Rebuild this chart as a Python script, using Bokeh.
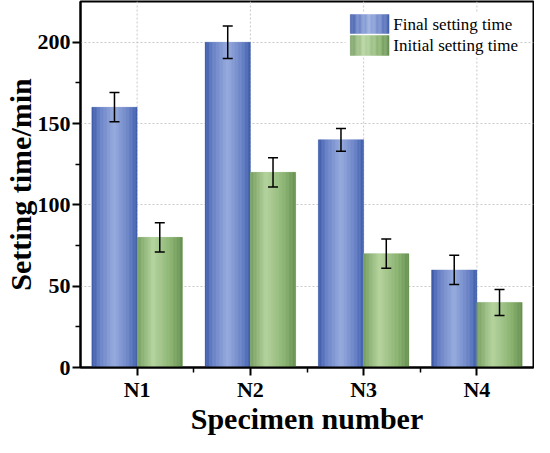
import numpy as np
from bokeh.plotting import figure
from bokeh.models import FixedTicker, Whisker, ColumnDataSource, TeeHead, Range1d
from bokeh.embed import file_html
from bokeh.resources import INLINE
from bokeh.core.properties import value

# ---- data ----
categories = ["N1", "N2", "N3", "N4"]
final_time = [160, 200, 140, 60]
final_err = [9, 10, 7, 9]
initial_time = [80, 120, 70, 40]
initial_err = [9, 9, 9, 8]
series_labels = ["Final setting time", "Initial setting time"]
y_ticks = [0, 50, 100, 150, 200]
y_minor = [25, 75, 125, 175]
x_title = "Specimen number"
y_title = "Setting time/min"

# ---- style ----
FONT = "Liberation Serif"
BAR_W = 0.4
N_STRIPS = 32
Y_MAX = 225
GRID_COLOR = "#c8c8c8"
blue_stops = [(0.0, (60, 90, 168)), (0.18, (105, 130, 198)), (0.5, (152, 172, 222)),
              (0.82, (105, 130, 198)), (1.0, (62, 93, 171))]
green_stops = [(0.0, (118, 158, 96)), (0.35, (183, 213, 161)), (0.75, (140, 180, 115)),
               (1.0, (102, 144, 80))]


def grad(stops, t):
    ts = [s[0] for s in stops]
    rgb = [int(round(np.interp(t, ts, [s[1][c] for s in stops]))) for c in range(3)]
    return "#%02x%02x%02x" % tuple(rgb)


xs = np.arange(1, len(categories) + 1, dtype=float)

p = figure(width=534, height=437, output_backend="svg", toolbar_location=None,
           x_range=Range1d(0.5, 4.5), y_range=Range1d(0, Y_MAX),
           min_border_left=70, min_border_right=1, min_border_top=1, min_border_bottom=10)
p.background_fill_color = "white"
p.outline_line_color = "black"
p.outline_line_width = 2

# vertical grid lines at category centres (drawn under the bars)
p.segment(x0=list(xs), x1=list(xs), y0=[0] * len(xs), y1=[Y_MAX] * len(xs),
          line_color=GRID_COLOR, line_dash="2 2", line_width=1, level="underlay")


def draw_bars(centers, tops, stops):
    mid = grad(stops, 0.5)
    p.vbar(x=centers, top=tops, width=BAR_W, fill_color=mid, line_color=None)
    L, R, T, B, C = [], [], [], [], []
    for c, t in zip(centers, tops):
        for k in range(N_STRIPS):
            l = c - BAR_W / 2 + BAR_W * k / N_STRIPS
            L.append(l)
            R.append(l + BAR_W / N_STRIPS)
            T.append(t)
            B.append(0)
            C.append(grad(stops, (k + 0.5) / N_STRIPS))
    p.quad(left=L, right=R, top=T, bottom=B, fill_color=C, line_color=C, line_width=0.3)


draw_bars(xs - BAR_W / 2, final_time, blue_stops)
draw_bars(xs + BAR_W / 2, initial_time, green_stops)

# error bars
for centers, vals, errs in [(xs - BAR_W / 2, final_time, final_err),
                            (xs + BAR_W / 2, initial_time, initial_err)]:
    src = ColumnDataSource(dict(x=list(centers),
                                upper=[v + e for v, e in zip(vals, errs)],
                                lower=[v - e for v, e in zip(vals, errs)]))
    w = Whisker(source=src, base="x", upper="upper", lower="lower",
                line_width=1.5, line_color="black", level="annotation",
                upper_head=TeeHead(size=10, line_width=1.5, line_color="black"),
                lower_head=TeeHead(size=10, line_width=1.5, line_color="black"))
    p.add_layout(w)

# ---- legend (gradient swatches) ----
LEG_X0, LEG_X1 = 2.882, 3.225
LEG_ROWS = [(217.0, 205.3), (204.1, 191.8)]
p.quad(left=[2.84], right=[4.36], top=[218.2], bottom=[190.6], fill_color="white", line_color=None)
for (top, bot), stops, lab in zip(LEG_ROWS, [blue_stops, green_stops], series_labels):
    L, R, C = [], [], []
    for k in range(N_STRIPS):
        l = LEG_X0 + (LEG_X1 - LEG_X0) * k / N_STRIPS
        L.append(l)
        R.append(l + (LEG_X1 - LEG_X0) / N_STRIPS)
        C.append(grad(stops, (k + 0.5) / N_STRIPS))
    p.quad(left=L, right=R, top=[top] * N_STRIPS, bottom=[bot] * N_STRIPS,
           fill_color=C, line_color=C, line_width=0.3)
    p.text(x=[3.262], y=[(top + bot) / 2], text=[lab], text_font=value(FONT),
           text_font_size="17px", text_baseline="middle", text_align="left", text_color="black")

# ---- axes ----
p.xaxis.ticker = FixedTicker(ticks=list(xs), minor_ticks=[1.5, 2.5, 3.5])
p.xaxis.major_label_overrides = {int(x): c for x, c in zip(xs, categories)}
p.yaxis.ticker = FixedTicker(ticks=y_ticks, minor_ticks=y_minor)
p.xgrid.visible = False
p.ygrid.ticker = FixedTicker(ticks=y_ticks, minor_ticks=[])
p.xaxis.axis_label = x_title
p.yaxis.axis_label = y_title

for ax in (p.xaxis, p.yaxis):
    ax.axis_line_width = 2
    ax.axis_line_color = "black"
    ax.major_tick_line_width = 2
    ax.minor_tick_line_width = 1.5
    ax.major_tick_out = 8
    ax.major_tick_in = 0
    ax.minor_tick_out = 5
    ax.minor_tick_in = 0
    ax.major_label_text_font = FONT
    ax.major_label_text_font_style = "bold"
    ax.major_label_text_font_size = "22px"
    ax.major_label_text_color = "black"
    ax.axis_label_text_font = FONT
    ax.axis_label_text_font_style = "bold"
    ax.axis_label_text_font_size = "30px"
    ax.axis_label_text_color = "black"

p.yaxis.major_label_standoff = 2
p.yaxis.axis_label_standoff = -2
p.xaxis.major_label_standoff = 1
p.xaxis.axis_label_standoff = -3

p.ygrid.grid_line_color = GRID_COLOR
p.ygrid.grid_line_dash = "2 2"
p.ygrid.grid_line_width = 1

open("out.html", "w").write(file_html(p, INLINE))
